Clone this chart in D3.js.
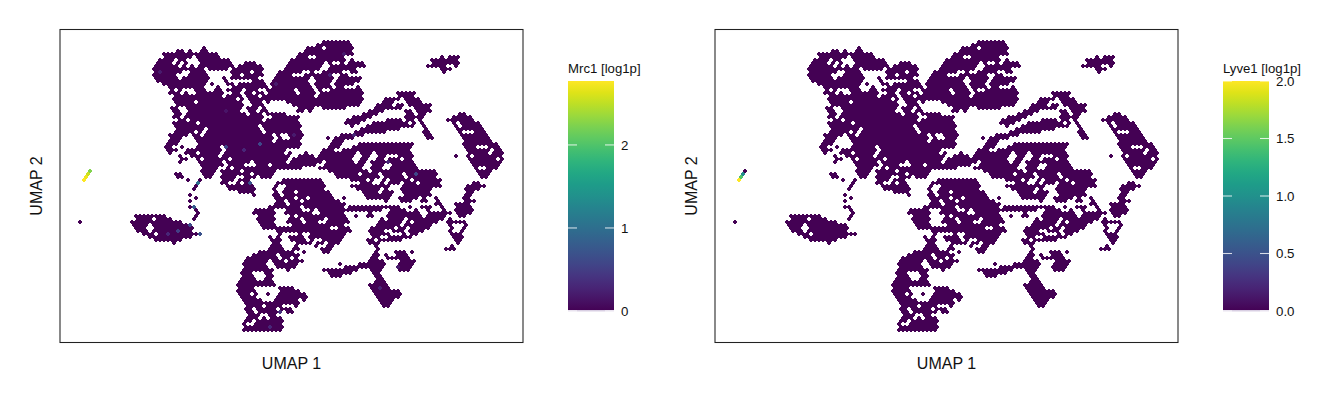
<!DOCTYPE html>
<html><head><meta charset="utf-8">
<script src="https://cdn.jsdelivr.net/npm/d3@7"></script>
<style>html,body{margin:0;padding:0;background:#fff}svg{display:block}text{font-family:"Liberation Sans",Arial,sans-serif;fill:#111}</style>
</head><body><svg id="c" width="1344" height="403"></svg>
<script>
// Occupied hex bins, one row per UMAP 2 level: [umap2, from, to, from, to, ...] in UMAP 1 units
const hexRuns = [
[42,322,350],[45,316,353],[48,202,206,308,320,325,353],[51,175,185,188,192,200,208,303,352],
[54,163,218,299,352],[57,163,192,198,220,296,306,316,345,438,442,450,458],
[60,160,173,178,187,199,228,290,332,336,345,350,353,432,458],
[63,158,173,177,180,186,189,200,232,243,257,288,322,330,333,340,342,350,362,432,458],
[66,155,176,180,184,190,192,197,235,238,262,285,320,332,364,427,447,452,456],
[69,153,205,210,228,232,262,283,318,330,355,442,450],
[72,153,176,180,183,190,207,232,240,243,250,253,263,280,303,312,315,322,342,350,358,444,447],
[75,154,177,188,207,232,240,243,262,278,292,305,330,340,348],
[78,156,178,183,208,224,227,232,259,275,308,316,332,337,360],
[81,158,208,223,228,253,263,272,309,318,330,335,358],
[84,162,207,212,215,226,233,240,265,272,310,316,330,335,355],
[87,167,205,214,218,232,258,262,268,272,310,315,332,338,345,356,358],
[90,170,172,178,183,195,205,214,222,228,240,245,258,265,293,300,312,317,322,330,360],
[93,170,178,185,187,197,225,233,240,244,250,255,262,268,295,302,315,322,362,398,415],
[96,173,222,226,240,245,256,262,312,318,361,397,415],
[99,173,235,240,245,250,362,385,398,405,418],
[102,173,195,199,243,252,260,265,270,288,361,382,395,405,422],
[105,175,243,252,262,292,358,375,390,397,405,409,431],
[108,172,178,187,243,248,258,262,266,297,304,307,313,322,346,373,403,412,417,420,431],
[111,172,178,187,240,247,255,262,268,296,302,306,310,368,385,405,413,418,430],
[114,175,182,187,245,250,263,268,285,362,377,405,415,418,427,457,465],
[117,173,180,185,265,272,298,353,373,403,423,452,472],
[120,178,185,190,263,267,298,348,367,385,403,407,413,418,423,444,448,450,457,460,475],
[123,172,197,200,260,262,298,343,358,373,407,410,415,418,422,452,457,462,478],
[126,173,258,262,268,272,300,350,353,365,408,412,415,422,425,454,458,461,482],
[129,175,205,210,258,263,301,360,400,422,427,455,483],
[132,175,192,198,203,208,260,265,302,353,385,423,430,458,463,473,485],
[135,170,187,192,198,203,272,275,280,288,302,340,362,425,433,460,487],
[138,170,183,195,205,207,272,276,280,289,300,327,330,333,353,426,433,462,490],
[141,170,180,197,270,275,300,332,343,463,493],
[144,167,178,200,300,330,340,360,412,464,497],
[147,165,173,180,185,198,220,225,298,328,338,353,412,465,477,487,500],
[150,166,178,188,197,200,222,228,285,323,335,342,410,465,490,493,501],
[153,168,172,182,187,190,197,200,220,226,285,288,292,303,308,322,355,362,372,378,387,390,412,467,488,493,502],
[156,177,182,190,197,200,218,224,288,297,312,318,353,362,370,378,385,400,413,455,459,467,470,474,503],
[159,180,187,197,200,206,218,222,228,232,288,292,326,330,353,362,368,377,385,388,400,405,412,468,497,500,505],
[162,178,182,200,220,228,250,255,285,290,323,327,352,358,367,372,413,470,502],
[165,200,222,228,245,255,268,272,317,325,362,373,382,392,415,472,500],
[168,203,218,225,230,235,260,262,300,320,352,355,362,372,383,392,418,475,480,485,497],
[171,88,92,200,215,222,240,243,277,328,366,371,437,477,493],
[174,86,90,175,182,203,213,222,228,232,250,255,275,333,358,362,378,382,400,405,436,478,490],
[177,84,88,177,183,203,210,222,235,245,255,262,272,337,358,362,380,385,405,410,437,480,487],
[180,82,86,185,188,196,201,222,232,240,250,283,322,352,365,370,372,380,384,392,410,415,440],
[183,195,199,222,228,235,240,245,252,278,325,360,372,378,383,390,400,405,417,422,440,473,480],
[186,193,198,225,255,273,277,287,325,352,390,403,440,465,485],
[189,192,196,228,255,273,276,285,322,358,380,385,390,400,430,465,478],
[192,238,252,272,277,283,295,298,330,362,377,383,392,403,420,423,430,467,475],
[195,188,191,250,255,273,280,285,298,302,333,363,392,405,420,422,430,465,472],
[198,193,197,275,295,298,305,312,335,343,347,368,390,398,418,422,427,433,438,463,470],
[201,190,193,275,285,290,300,305,340,382,387,400,413,422,428,435,440,463,475],
[204,276,285,292,345,433,442,456,468],
[207,187,192,193,197,270,300,305,345,348,390,391,400,410,413,422,430,438,443,455,470],
[210,193,197,253,273,285,300,310,315,320,345,347,382,390,405,415,418,427,432,440,445,455,472],
[213,196,199,253,275,285,310,320,343,367,373,387,407,410,420,428,450,457,470],
[216,134,152,155,167,194,197,257,273,288,292,298,345,353,358,365,373,387,422,425,447,457,465],
[219,135,152,155,173,192,195,257,275,290,300,305,322,330,347,378,383,388,403,410,418,422,443,448,453],
[222,79,83,130,153,155,182,260,273,288,300,308,318,325,350,380,390,392,402,407,412,415,437,448,466],
[225,133,147,152,192,262,277,293,345,375,398,405,430,450,453,465,467],
[228,135,145,153,195,263,277,280,328,338,350,372,393,398,405,410,428,450,453,463,467],
[231,135,147,152,193,277,300,302,330,333,350,370,385,393,403,408,422,450,453,462,465],
[234,142,152,157,201,277,283,297,302,310,345,370,390,400,405,410,418,452,462],
[237,150,193,267,273,277,282,290,302,307,342,372,378,387,398,402,412,453,463],
[240,153,182,272,283,292,305,310,315,322,342,367,373,380,400,455,462],
[243,173,178,272,280,295,312,318,325,330,338,368,380,456,460],
[246,272,280,295,297,315,320,325,332,372,377,452,455],
[249,270,282,292,298,322,333,377,380,445,455],
[252,257,295,303,307,322,328,375,380,395,407,410,415],
[255,254,277,282,300,373,380,385,390,395,407],
[258,248,277,282,290,293,297,372,378,385,410],
[261,244,267,272,285,290,305,370,382,400,415],
[264,243,267,273,298,337,342,357,372,373,385,397,415],
[267,243,268,275,295,343,372,373,382,398,412],
[270,242,273,285,290,323,357,372,380,398,408],
[273,242,253,263,273,330,350,372,380],
[276,242,253,267,273,332,342,375,382],
[279,240,257,265,273,375,383],
[282,237,260,262,275,373,385],
[285,236,277,370,387],
[288,237,255,277,293,370,390],
[291,238,255,282,300,372,398],
[294,240,248,252,257,267,271,280,292,293,305,373,400],
[297,242,257,277,307,377,398],
[300,243,260,273,297,300,305,378,395],
[303,245,300,382,392],
[306,248,263,267,280,293,297,383,391],
[309,243,250,257,277,282,290],
[312,245,253,260,280,287,295],
[315,250,260,267,277],
[318,247,257,263,268,272,283],
[321,245,252,257,267,270,285],
[324,243,248,253,280],
[327,243,260,262,282],
[330,242,280]
];
// Bins that are not zero: [umap1, umap2, value]
const mrc1Values = [
[90,171,2.25],[88,174,2.55],[86,177,2.7],[84,180,2.77],
[224,147,.6],[260,145,.6],[198,181,1.0],[249,182,.7],[243,150,.3],[161,73,.2],[227,110,.15],[293,135,.2],[275,83,.2],
[415,173,.6],[353,135,.3],[343,53,.2],[332,75,.25],[390,162,.3],
[193,209,.8],[189,224,.6],[201,234,.7],[178,232,.5],[167,234,.3],[279,312,.4],[271,326,.3],[379,289,.25],[397,266,.2]
];
const lyve1Values = [[90,171,0],[88,174,.95],[86,177,1.45],[84,180,2.0]];
const panels = [
  {left:60,barLeft:568,title:"Mrc1 [log1p]",max:2.77,ticks:[0,1,2],fmt:"d",values:mrc1Values},
  {left:715,barLeft:1223,title:"Lyve1 [log1p]",max:2.0,ticks:[0,.5,1,1.5,2],fmt:".1f",values:lyve1Values}
];
const plotW=463, plotH=313, plotTop=29.5, barTop=81, barBottom=311, barW=46;

const svg=d3.select("#c");
const xS=d3.scaleLinear().domain([60,523]).range([0,plotW]);
const yS=d3.scaleLinear().domain([29.5,342.5]).range([0,plotH]);
const hexW=xS(64.2)-xS(60), hexH=yS(33.8)-yS(29.5);
const hexPath=d3.line()([[0,-hexH/2],[hexW/2,-hexH/4],[hexW/2,hexH/4],[0,hexH/2],[-hexW/2,hexH/4],[-hexW/2,-hexH/4]])+"Z";

// expand the runs onto the hex lattice; a run about one bin wide is a single bin
const cells=[];
hexRuns.forEach(r=>{
  const v=r[0], off=((v-42)/3)%2?2:0;
  for(let i=1;i<r.length;i+=2){
    const w=r[i+1]-r[i];
    let a,b;
    if(w<=5){ a=b=Math.round(((r[i]+r[i+1])/2-off)/4); }
    else { a=Math.round((r[i]+1.5-off)/4); b=Math.max(a,Math.round((r[i+1]-1.5-off)/4)); }
    for(let c=a;c<=b;c++) cells.push({u:c*4+off,v});
  }
});
const key=d=>d.u+"_"+d.v;

const defs=svg.append("defs");
panels.forEach((p,pi)=>{
  const g=svg.append("g").attr("transform",`translate(${p.left},${plotTop})`);
  const color=d3.scaleSequential(d3.interpolateViridis).domain([0,p.max]);
  const vals=new Map();
  p.values.forEach(([u,v,val])=>{
    const near=d3.least(cells,c=>(c.u-u)**2+(c.v-v)**2);
    vals.set(key(near),val);
  });
  const ordered=cells.slice().sort((a,b)=>(vals.get(key(a))||0)-(vals.get(key(b))||0));
  g.append("g").selectAll("path").data(ordered).join("path")
    .attr("d",hexPath).attr("transform",d=>`translate(${xS(d.u)},${yS(d.v)})`)
    .attr("fill",d=>color(vals.get(key(d))||0)).attr("shape-rendering","crispEdges");
  g.append("rect").attr("width",plotW).attr("height",plotH).attr("fill","none").attr("stroke","#222").attr("stroke-width",1.07);
  g.append("text").attr("x",plotW/2).attr("y",339.5).attr("text-anchor","middle").attr("font-size",16).text("UMAP 1");
  g.append("text").attr("transform",`translate(-18,${plotH/2}) rotate(-90)`).attr("text-anchor","middle").attr("font-size",16).text("UMAP 2");

  // colour bar
  const gid="grad"+pi;
  const grad=defs.append("linearGradient").attr("id",gid).attr("x1",0).attr("x2",0).attr("y1",1).attr("y2",0);
  d3.range(0,1.0001,.05).forEach(t=>grad.append("stop").attr("offset",t).attr("stop-color",d3.interpolateViridis(t)));
  const bar=svg.append("g").attr("transform",`translate(${p.barLeft},0)`);
  const yB=d3.scaleLinear().domain([0,p.max]).range([barBottom,barTop]);
  bar.append("rect").attr("y",barTop).attr("width",barW).attr("height",barBottom-barTop).attr("fill",`url(#${gid})`);
  bar.append("rect").attr("y",barBottom-1).attr("width",barW).attr("height",1.5).attr("fill","#d9cfe3");
  p.ticks.forEach(t=>{
    [[0,9],[barW-9,barW]].forEach(([a,b])=>bar.append("line").attr("x1",a).attr("x2",b).attr("y1",yB(t)).attr("y2",yB(t)).attr("stroke","#fff").attr("stroke-opacity",.8).attr("stroke-width",1.07));
  });
  const ax=d3.axisRight(yB).tickValues(p.ticks).tickFormat(d3.format(p.fmt)).tickSize(0).tickPadding(7);
  const ag=bar.append("g").attr("transform",`translate(${barW},0)`).call(ax);
  ag.select(".domain").remove();
  ag.selectAll("text").attr("font-size",13.3).attr("font-family",'"Liberation Sans",Arial,sans-serif').attr("fill","#111");
  bar.append("text").attr("x",0).attr("y",72.5).attr("font-size",13.2).text(p.title);
});
</script></body></html>
